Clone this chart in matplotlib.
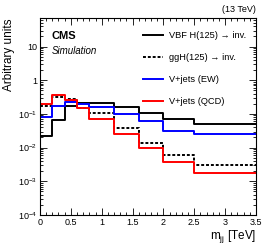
import matplotlib
matplotlib.use('Agg')
import matplotlib.pyplot as plt
import numpy as np
from matplotlib.ticker import FixedLocator, LogLocator, MultipleLocator, NullFormatter

plt.rcParams['font.family'] = ['Liberation Sans', 'DejaVu Sans']
plt.rcParams['mathtext.fontset'] = 'custom'
plt.rcParams['mathtext.rm'] = 'Liberation Sans'
plt.rcParams['mathtext.it'] = 'Liberation Sans:italic'

# bin edges in TeV
edges = [0, 0.2, 0.4, 0.6, 0.8, 1.2, 1.6, 2.0, 2.5, 3.5]

vbf = [0.0225, 0.066, 0.168, 0.21, 0.21, 0.157, 0.107, 0.072, 0.051]
ggh = [0.168, 0.31, 0.286, 0.15, 0.104, 0.039, 0.0135, 0.0062, 0.0031]
vjets_ew = [0.081, 0.177, 0.228, 0.2, 0.157, 0.1, 0.06, 0.032, 0.0258]
vjets_qcd = [0.2, 0.37, 0.262, 0.147, 0.072, 0.0258, 0.0098, 0.0038, 0.0018]

labels = ['VBF H(125) \u2192 inv.', 'ggH(125) \u2192 inv.',
          'V+jets (EW)', 'V+jets (QCD)']

fig = plt.figure(figsize=(2.7, 2.48), dpi=100)
ax = fig.add_axes([0.148, 0.133, 0.8, 0.794])

def hist(vals, **kw):
    y = np.append(vals, vals[-1])
    return ax.step(edges, y, where='post', lw=1.4, **kw)[0]

h1 = hist(vbf, color='black')
h2 = hist(ggh, color='black', linestyle=(0, (1.5, 1)))
h3 = hist(vjets_ew, color='blue')
h4 = hist(vjets_qcd, color='red')

ax.set_yscale('log')
ax.set_xlim(0, 3.5)
ax.set_ylim(1e-4, 70)

xt = [0, 0.5, 1, 1.5, 2, 2.5, 3, 3.5]
ax.set_xticks(xt)
ax.set_xticklabels(['0', '0.5', '1', '1.5', '2', '2.5', '3', '3.5'])
ax.xaxis.set_minor_locator(MultipleLocator(0.1))

yt = [1e-4, 1e-3, 1e-2, 1e-1, 1, 10]
ax.yaxis.set_major_locator(FixedLocator(yt))
ax.set_yticklabels(['$10^{-4}$', '$10^{-3}$', '$10^{-2}$', '$10^{-1}$', '1', '10'])
ax.yaxis.set_minor_locator(LogLocator(base=10, subs=np.arange(2, 10), numticks=20))
ax.yaxis.set_minor_formatter(NullFormatter())

ax.tick_params(which='both', direction='in', top=True, right=True, labelsize=6.5, pad=2)
ax.tick_params(which='major', length=5, width=0.6)
ax.tick_params(which='minor', length=2.5, width=0.6)
for s in ax.spines.values():
    s.set_linewidth(0.8)

ax.set_ylabel('Arbitrary units', fontsize=8.5, loc='top', labelpad=2)
ax.set_xlabel('m$_{\\mathregular{jj}}$ [TeV]', fontsize=8.5, loc='right', labelpad=1)

fig.text(0.948, 0.945, '(13 TeV)', fontsize=6.5, ha='right', va='bottom')
ax.text(0.055, 0.91, 'CMS', transform=ax.transAxes, fontsize=8, fontweight='bold', va='center')
ax.text(0.055, 0.835, 'Simulation', transform=ax.transAxes, fontsize=7, style='italic', va='center')

ax.legend([h1, h2, h3, h4], labels, loc='upper right', bbox_to_anchor=(0.955, 0.935),
          frameon=False, fontsize=6.7, handlelength=2.2, labelspacing=1.4,
          handletextpad=0.6, borderaxespad=0.0, borderpad=0.0)

fig.savefig('out.png', dpi=100)
